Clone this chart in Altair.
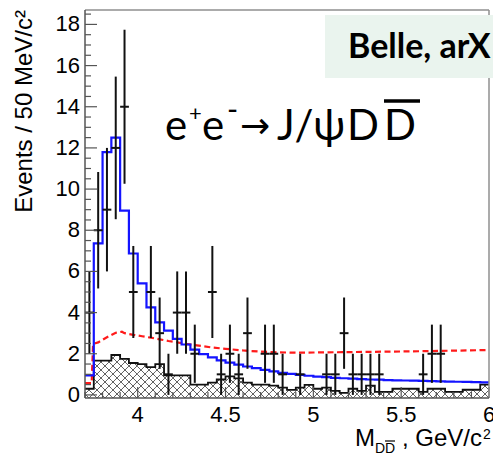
import numpy as np
import pandas as pd
import altair as alt

# 50 MeV/c^2 bins over the plotted D Dbar mass window
M_LO, M_HI, BIN = 3.70, 6.00, 0.05
N_BINS = 46
edges = np.round(M_LO + BIN * np.arange(N_BINS + 1), 3)
centers = np.round(edges[:-1] + BIN / 2, 4)

# observed events per bin
counts = [4, 8, 9, 12, 14, 5, 0, 5, 3, 1,
          4, 4, 2, 0, 5, 1, 2, 1, 3, 0,
          2, 2, 1, 0, 1, 0, 0, 1, 1, 3,
          1, 1, 1, 1, 0, 0, 0, 0, 1, 2,
          2, 0, 0, 0, 0, 0]

# total fit, per bin (solid blue histogram)
fit_total = [0.95, 7.36, 11.8, 12.5, 8.95, 6.87, 5.42, 4.25, 3.52, 3.12,
             2.72, 2.45, 2.2, 1.98, 1.82, 1.68, 1.57, 1.47, 1.38, 1.3,
             1.22, 1.14, 1.07, 1.02, 0.97, 0.93, 0.89, 0.86, 0.83, 0.81,
             0.79, 0.77, 0.75, 0.74, 0.72, 0.71, 0.7, 0.69, 0.68, 0.67,
             0.66, 0.65, 0.64, 0.63, 0.62, 0.61]

# sideband background, per bin (hatched histogram)
sideband_bkg = [0.3, 1.67, 1.67, 1.94, 1.75, 1.55, 1.5, 1.35, 1.5, 0.95,
                0.95, 0.95, 0.5, 0.5, 0.6, 0.75, 0.9, 0.8, 0.6, 0.5,
                0.5, 0.45, 0.35, 0.24, 0.35, 0.49, 0.3, 0.35, 0.2, 0.1,
                0.3, 0.2, 0.45, 0.15, 0.15, 0.3, 0.3, 0.3, 0.15, 0.3,
                0.3, 0.15, 0.15, 0.25, 0.25, 0.5]

# non-resonant shape (red dashed curve)
shape_mass = [3.70, 3.738, 3.746, 3.775, 3.825, 3.875, 3.91, 3.925, 3.975, 4.025,
              4.075, 4.125, 4.175, 4.225, 4.275, 4.325, 4.375, 4.425, 4.5, 4.6,
              4.7, 4.8, 4.9, 5.0, 5.2, 5.4, 5.6, 5.8, 6.0]
shape_val = [0.57, 0.57, 2.48, 2.55, 2.8, 3.02, 3.07, 3.0, 2.92, 2.85,
             2.78, 2.7, 2.62, 2.55, 2.48, 2.42, 2.36, 2.3, 2.24, 2.16,
             2.1, 2.07, 2.05, 2.06, 2.08, 2.1, 2.12, 2.15, 2.18]

y_major = [0, 2, 4, 6, 8, 10, 12, 14, 16, 18]
y_labels = ["0", "2", "4", "6", "8", "10", "12", "14", "16", "18"]
y_minor = [v / 2 for v in range(1, 38) if v % 4 != 0]
x_major = [4.0, 4.5, 5.0, 5.5, 6.0]
x_labels = ["4", "4.5", "5", "5.5", "6"]
x_minor = [round(3.7 + 0.1 * i, 2) for i in range(24)
           if round(3.7 + 0.1 * i, 2) not in x_major]

Y_LO, Y_HI = -0.15, 18.7
W, H = 404, 388
FONT = "Liberation Sans"

xs = alt.Scale(domain=[M_LO, M_HI], nice=False, zero=False)
ys = alt.Scale(domain=[Y_LO, Y_HI], nice=False, zero=False)


def hatch_segments(lo_edges, hi_edges, heights, spacing=8.0):
    """Cross-hatch lines (+/-45 degrees on screen) clipped to each bin."""
    px_x = W / (M_HI - M_LO)
    px_y = H / (Y_HI - Y_LO)
    offsets = np.arange(-500.0, W + 500.0, spacing)
    rows = []
    for a, b, h in zip(lo_edges, hi_edges, heights):
        u0, u1 = (a - M_LO) * px_x, (b - M_LO) * px_x
        hh = (h - Y_LO) * px_y
        for c in offsets:
            ua, ub = max(u0, c), min(u1, c + hh)
            if ub > ua:
                rows.append((ua, ua - c, ub, ub - c))
            ua, ub = max(u0, c - hh), min(u1, c)
            if ub > ua:
                rows.append((ua, c - ua, ub, c - ub))
    seg = np.array(rows)
    return pd.DataFrame({
        "x1": M_LO + seg[:, 0] / px_x, "y1": Y_LO + seg[:, 1] / px_y,
        "x2": M_LO + seg[:, 2] / px_x, "y2": Y_LO + seg[:, 3] / px_y,
    })


def step_frame(vals):
    return pd.DataFrame({"m": edges, "v": list(vals) + [vals[-1]]})


def X(field):
    return alt.X(field, scale=xs, axis=None)


def Y(field):
    return alt.Y(field, scale=ys, axis=None)


one = pd.DataFrame({"k": [0]})

hatch = alt.Chart(hatch_segments(edges[:-1], edges[1:], sideband_bkg)).mark_rule(
    color="#444", strokeWidth=0.85
).encode(x=X("x1:Q"), x2="x2:Q", y=Y("y1:Q"), y2="y2:Q")

bkg_line = alt.Chart(step_frame(sideband_bkg)).mark_line(
    interpolate="step-after", color="#111", strokeWidth=1.8
).encode(x=X("m:Q"), y=Y("v:Q"))

shape_line = alt.Chart(pd.DataFrame({"m": shape_mass, "v": shape_val})).mark_line(
    color="#ff1a1a", strokeWidth=2.2, strokeDash=[6, 3.5]
).encode(x=X("m:Q"), y=Y("v:Q"))

fit_line = alt.Chart(step_frame(fit_total)).mark_line(
    interpolate="step-after", color="#1414ff", strokeWidth=2.2
).encode(x=X("m:Q"), y=Y("v:Q"))

n = np.array(counts, dtype=float)
has = n > 0
pts = pd.DataFrame({
    "m": centers[has], "n": n[has],
    "lo": n[has] - np.sqrt(n[has]), "hi": n[has] + np.sqrt(n[has]),
    "ml": centers[has] - BIN / 2, "mh": centers[has] + BIN / 2,
})
err_v = alt.Chart(pts).mark_rule(color="#111", strokeWidth=2).encode(
    x=X("m:Q"), y=Y("lo:Q"), y2="hi:Q")
err_h = alt.Chart(pts).mark_rule(color="#111", strokeWidth=2).encode(
    x=X("ml:Q"), x2="mh:Q", y=Y("n:Q"))

# inward ticks
tick_c = "#555"
ymaj = alt.Chart(pd.DataFrame({"v": y_major})).mark_rule(color=tick_c, strokeWidth=1.2).encode(
    y=Y("v:Q"), x=alt.value(0), x2=alt.value(12))
ymin_ = alt.Chart(pd.DataFrame({"v": y_minor})).mark_rule(color=tick_c, strokeWidth=1.2).encode(
    y=Y("v:Q"), x=alt.value(0), x2=alt.value(6))
xmaj = alt.Chart(pd.DataFrame({"v": x_major})).mark_rule(color=tick_c, strokeWidth=1.2).encode(
    x=X("v:Q"), y=alt.value(H), y2=alt.value(H - 11))
xmin_ = alt.Chart(pd.DataFrame({"v": x_minor})).mark_rule(color=tick_c, strokeWidth=1.2).encode(
    x=X("v:Q"), y=alt.value(H), y2=alt.value(H - 6))

# tick labels
ylab = alt.Chart(pd.DataFrame({"v": y_major, "t": y_labels})).mark_text(
    font=FONT, fontSize=22, align="right", baseline="middle", color="#000"
).encode(y=Y("v:Q"), x=alt.value(-5), text="t:N")
xlab = alt.Chart(pd.DataFrame({"v": x_major, "t": x_labels})).mark_text(
    font=FONT, fontSize=22, align="center", baseline="alphabetic", color="#000"
).encode(x=X("v:Q"), y=alt.value(H + 24), text="t:N")

# frame
frame_top = alt.Chart(one).mark_rule(color="#8f8f8f", strokeWidth=1.5).encode(
    x=alt.value(0), x2=alt.value(W), y=alt.value(0))
frame_right = alt.Chart(one).mark_rule(color="#8f8f8f", strokeWidth=1.5).encode(
    x=alt.value(W), y=alt.value(0), y2=alt.value(H))
frame_left = alt.Chart(one).mark_rule(color="#555", strokeWidth=1.5).encode(
    x=alt.value(0), y=alt.value(0), y2=alt.value(H))
frame_bottom = alt.Chart(one).mark_rule(color="#555", strokeWidth=1.5).encode(
    x=alt.value(0), x2=alt.value(W), y=alt.value(H))


def label(txt, x, y, size, font="Lato", align="left", angle=0, weight="normal"):
    return alt.Chart(one).mark_text(
        text=txt, font=font, fontSize=size, align=align, baseline="alphabetic",
        angle=angle, fontWeight=weight, color="#000"
    ).encode(x=alt.value(x), y=alt.value(y))


# experiment tag
tag_box = alt.Chart(one).mark_rect(color="#eaf4ee").encode(
    x=alt.value(240), x2=alt.value(420), y=alt.value(5), y2=alt.value(68))
tag_txt = label("Belle, arX", 263, 48, 34, weight="bold")

# process annotation: e+ e- -> J/psi D Dbar
proc = [
    label("e", 80, 130, 42),
    label("+", 104, 111, 22),
    label("e", 117, 130, 42),
    label("-", 142, 110, 30),
    label("\u2192", 155, 128, 36, font="DejaVu Sans"),
    label("J/\u03c8", 192, 130, 42),
    label("D", 262, 130, 42),
    label("D", 299, 130, 42),
]
proc_bar = alt.Chart(one).mark_rule(color="#000", strokeWidth=3.5).encode(
    x=alt.value(299), x2=alt.value(335), y=alt.value(91))

# axis titles
y_title = label("Events / 50 MeV/c\u00b2", -53, 0, 24, font=FONT, align="right", angle=270)
x_title = [
    label("M", 270, 436, 24, font=FONT),
    label("DD", 290, 443, 14, font=FONT),
    label(", GeV/c", 397, 436, 24, font=FONT, align="right"),
    label("2", 398, 429, 14, font=FONT),
]
x_title_bar = alt.Chart(one).mark_rule(color="#000", strokeWidth=1.2).encode(
    x=alt.value(300), x2=alt.value(310), y=alt.value(431))

chart = alt.layer(
    hatch, bkg_line, shape_line, fit_line, err_v, err_h,
    ymaj, ymin_, xmaj, xmin_, ylab, xlab,
    frame_top, frame_right, frame_left, frame_bottom,
    tag_box, tag_txt, *proc, proc_bar, y_title, *x_title, x_title_bar,
).properties(
    width=W, height=H, autosize="none",
    padding={"left": 85, "top": 10, "right": 4, "bottom": 58},
    background="white",
).configure_view(strokeWidth=0)

chart.save("out.html", embed_options={"renderer": "svg", "actions": False})
